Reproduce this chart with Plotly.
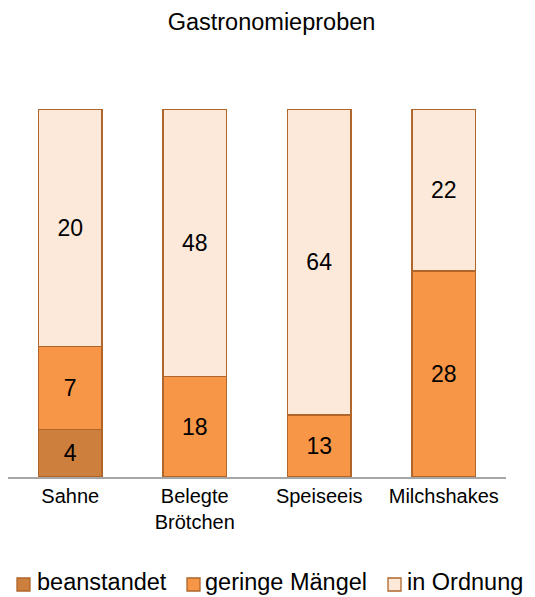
import plotly.graph_objects as go

categories = ["Sahne", "Belegte<br>Brötchen", "Speiseeis", "Milchshakes"]
beanstandet = [4, 0, 0, 0]
geringe_maengel = [7, 18, 13, 28]
in_ordnung = [20, 48, 64, 22]

series = [
    ("beanstandet", beanstandet, "#CD7F3E"),
    ("geringe Mängel", geringe_maengel, "#F79646"),
    ("in Ordnung", in_ordnung, "#FDE9D9"),
]

EDGE = "#B0662A"
FONT = "Liberation Sans, Arial"

# page body has an 8px default margin; figure is sized to fit the window
OFF = 8
W, H = 535 - OFF, 597 - OFF
L, R, T, B = 0, 29, 101, 120
PW, PH = W - L - R, H - T - B


def px_x(win_x):
    return (win_x - OFF - L) / PW


def px_y(win_y):
    return (H - B - (win_y - OFF)) / PH


fig = go.Figure()
for name, vals, color in series:
    fig.add_trace(go.Bar(
        x=categories, y=vals, name=name,
        marker=dict(color=color, line=dict(color=EDGE, width=1.3)),
        text=[str(v) if v else "" for v in vals],
        textposition="inside", insidetextanchor="middle", textangle=0,
        textfont=dict(family=FONT, size=23, color="#000000"),
        width=0.51,
        hoverinfo="skip",
        showlegend=False,
    ))

# legend drawn as keys + labels
legend_pos = [(17, 35), (187, 203), (388, 405)]
for (name, _, color), (sx, tx) in zip(series, legend_pos):
    fig.add_shape(type="rect", xref="paper", yref="paper",
                  x0=px_x(sx), x1=px_x(sx + 13), y0=px_y(591), y1=px_y(578),
                  fillcolor=color, line=dict(color=EDGE, width=1.3))
    fig.add_annotation(text=name, xref="paper", yref="paper", x=px_x(tx), y=px_y(582),
                       xanchor="left", yanchor="middle", showarrow=False,
                       font=dict(family=FONT, size=23.5, color="#000000"))

fig.update_layout(
    barmode="stack", barnorm="percent",
    width=W, height=H,
    margin=dict(l=L, r=R, t=T, b=B, autoexpand=False),
    paper_bgcolor="white", plot_bgcolor="white",
    font=dict(family=FONT, color="#000000"),
    title=dict(text="Gastronomieproben", x=0.5, xanchor="center", y=1 - 14 / H, yanchor="middle",
               font=dict(size=23.5, color="#000000")),
    showlegend=False,
)
fig.update_xaxes(showline=True, linecolor="#A6A6A6", linewidth=1.5, ticks="",
                 tickfont=dict(size=20, color="#000000"), showgrid=False)
fig.update_yaxes(range=[0, 100], visible=False, showgrid=False)

fig.write_html("out.html")
